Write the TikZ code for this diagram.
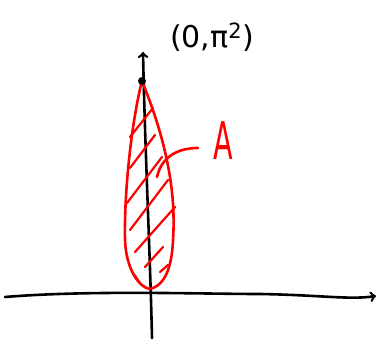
\documentclass[tikz,border=0pt]{standalone}
\usepackage{fontspec}
\newfontfamily\handfont{DejaVu Sans}
\usepackage{tikz}
\usetikzlibrary{arrows,positioning}
\tikzset{%
  >=to,
  axis/.style={draw=black,line width=2.6pt,line cap=round,line join=round},
  leaf/.style={draw=red,line width=2.6pt,line cap=round,line join=round},
}
\begin{document}
\begin{tikzpicture}[x=1pt,y=-1pt,%
                    lbl/.style={inner sep=1pt,font=\handfont\fontsize{30}{34}\selectfont},%
                    lblA/.style={inner sep=1pt,text=red,xscale=0.55,font=\handfont\fontsize{52}{56}\selectfont}]
  \useasboundingbox (0,0) rectangle (380,342);
  % axes
  \coordinate (xl) at (5,297);
  \coordinate (xr) at (376,296);
  \coordinate (yb) at (152,338);
  \coordinate (yt) at (143,52);
  \draw[axis,->] (xl) .. controls (90,290) and (200,294) .. (260,294)
                      .. controls (320,295) and (350,300) .. (xr);
  \draw[axis,->] (yb) .. controls (150,250) and (145,150) .. (yt);
  % region A
  \coordinate (tip) at (142,81);
  \coordinate (bot) at (150,289);
  \draw[leaf] (tip) .. controls (132,120) and (124,190) .. (125,240)
                    .. controls (126,270) and (140,288) .. (bot)
                    .. controls (166,285) and (172,265) .. (173,240)
                    .. controls (176,195) and (168,145) .. (tip);
  \foreach \a/\b/\c/\d in {130/137/153/108, 130/168/155/135, 127/203/162/157,
                           130/230/168/180, 135/252/175/207, 145/267/163/247,
                           133/273/140/283, 160/272/168/265}
    \draw[leaf,line width=2.2pt] (\a,\b) -- (\c,\d);
  \fill (tip) circle (4pt);
  % labels
  \node[lbl] (pt) at (212,37) {(0,π\textsuperscript{2})};
  \node[lblA] (A) at (223,141) {A};
  \coordinate (in) at (157,177);
  \draw[leaf] (198,148) .. controls (180,148) and (162,155) .. (in);
\end{tikzpicture}
\end{document}
